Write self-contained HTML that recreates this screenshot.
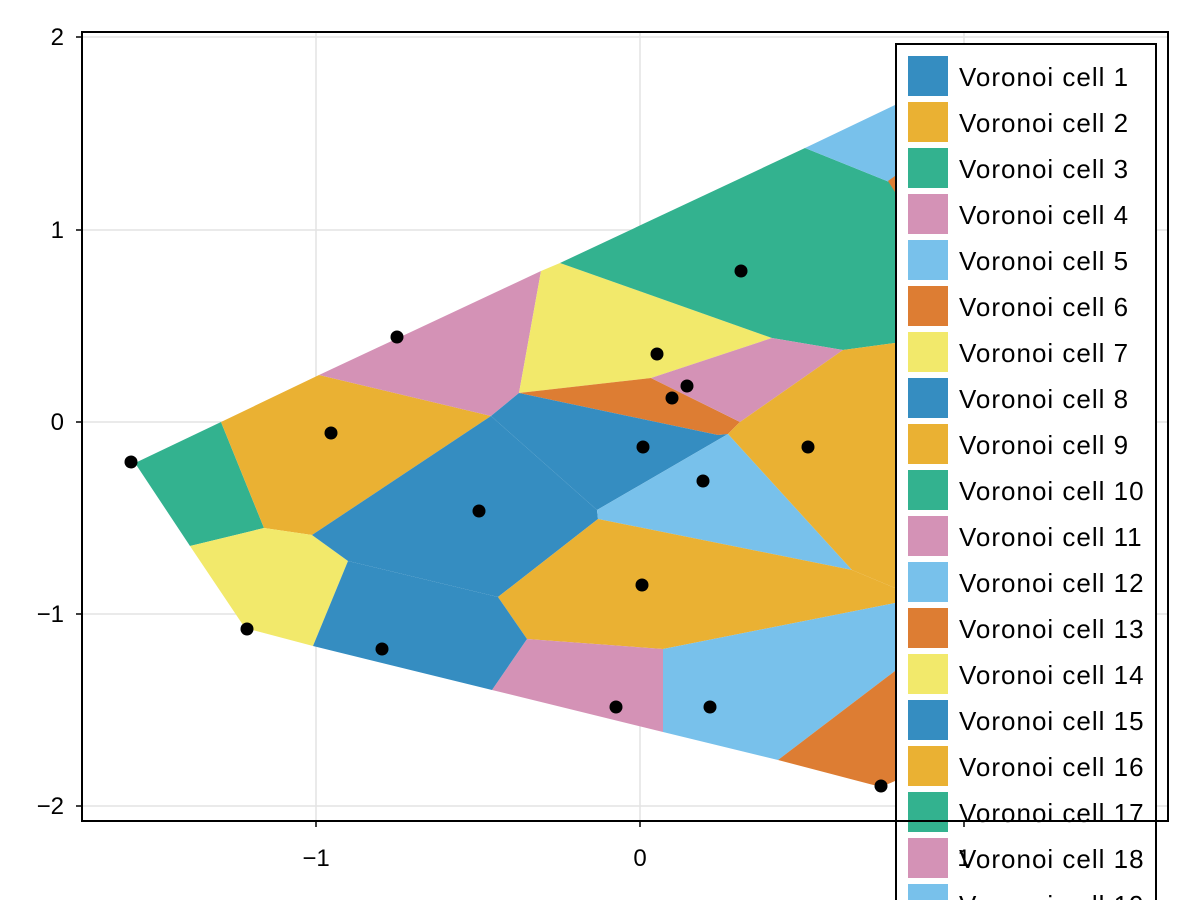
<!DOCTYPE html>
<html><head><meta charset="utf-8"><style>
html,body{margin:0;padding:0;background:#fff;}
svg{display:block;font-family:"Liberation Sans",Arial,sans-serif;}
</style></head><body>
<svg width="1200" height="900" viewBox="0 0 1200 900" xmlns="http://www.w3.org/2000/svg">
<rect width="1200" height="900" fill="#fff"/>
<g stroke="#e3e3e3" stroke-width="1.5">
<line x1="316" y1="32" x2="316" y2="821"/><line x1="640" y1="32" x2="640" y2="821"/><line x1="964" y1="32" x2="964" y2="821"/>
<line x1="82" y1="37" x2="1168" y2="37"/><line x1="82" y1="230" x2="1168" y2="230"/><line x1="82" y1="422" x2="1168" y2="422"/><line x1="82" y1="614" x2="1168" y2="614"/><line x1="82" y1="806" x2="1168" y2="806"/>
</g>
<g stroke="none">
<polygon fill="#33b28f" points="135,463 221,422 264,528 190,546"/>
<polygon fill="#eab133" points="221,422 319,375 491,416 312,535 264,528"/>
<polygon fill="#d492b6" points="319,375 541,271 519,393 491,416"/>
<polygon fill="#f2e96b" points="190,546 264,528 312,535 348,561 313,646 245,628"/>
<polygon fill="#358dc1" points="491,416 312,535 348,561 498,597 598,519 597,510"/>
<polygon fill="#f2e96b" points="541,271 560,263 772,338 651,378 519,393"/>
<polygon fill="#33b28f" points="560,263 805,148 892,183 895,190 895,343 843,350 772,338"/>
<polygon fill="#78c1eb" points="805,148 895,105 895,190 892,183"/>
<polygon fill="#dd7d33" points="888,181 895,176 895,192"/>
<polygon fill="#dd7d33" points="519,393 651,378 740,422 728,434 718,435"/>
<polygon fill="#d492b6" points="651,378 772,338 843,350 740,422"/>
<polygon fill="#358dc1" points="491,416 519,393 718,435 728,434 597,510"/>
<polygon fill="#78c1eb" points="597,510 728,434 852,570 598,519"/>
<polygon fill="#eab133" points="740,422 843,350 895,343 895,588 852,570 728,434"/>
<polygon fill="#eab133" points="598,519 852,570 895,588 895,603 663,649 527,639 498,597"/>
<polygon fill="#d492b6" points="527,639 663,649 663,732 492,690"/>
<polygon fill="#358dc1" points="348,561 498,597 527,639 492,690 313,646"/>
<polygon fill="#78c1eb" points="663,649 895,603 895,671 778,760 663,732"/>
<polygon fill="#dd7d33" points="778,760 895,671 895,781 881,787"/>
</g>
<g fill="#000">
<circle cx="131" cy="462" r="6.5"/><circle cx="397" cy="337" r="6.5"/><circle cx="331" cy="433" r="6.5"/><circle cx="479" cy="511" r="6.5"/><circle cx="247" cy="629" r="6.5"/><circle cx="382" cy="649" r="6.5"/><circle cx="616" cy="707" r="6.5"/><circle cx="710" cy="707" r="6.5"/><circle cx="643" cy="447" r="6.5"/><circle cx="703" cy="481" r="6.5"/><circle cx="642" cy="585" r="6.5"/><circle cx="657" cy="354" r="6.5"/><circle cx="687" cy="386" r="6.5"/><circle cx="672" cy="398" r="6.5"/><circle cx="808" cy="447" r="6.5"/><circle cx="741" cy="271" r="6.5"/><circle cx="881" cy="786" r="6.5"/>
</g>
<!-- legend -->
<rect x="896" y="44" width="260" height="870" fill="#fff" stroke="#000" stroke-width="2"/>
<g font-size="26" fill="#000" letter-spacing="1">
<rect x="908" y="56" width="40" height="40" fill="#358dc1"/><text x="959" y="86">Voronoi cell 1</text>
<rect x="908" y="102" width="40" height="40" fill="#eab133"/><text x="959" y="132">Voronoi cell 2</text>
<rect x="908" y="148" width="40" height="40" fill="#33b28f"/><text x="959" y="178">Voronoi cell 3</text>
<rect x="908" y="194" width="40" height="40" fill="#d492b6"/><text x="959" y="224">Voronoi cell 4</text>
<rect x="908" y="240" width="40" height="40" fill="#78c1eb"/><text x="959" y="270">Voronoi cell 5</text>
<rect x="908" y="286" width="40" height="40" fill="#dd7d33"/><text x="959" y="316">Voronoi cell 6</text>
<rect x="908" y="332" width="40" height="40" fill="#f2e96b"/><text x="959" y="362">Voronoi cell 7</text>
<rect x="908" y="378" width="40" height="40" fill="#358dc1"/><text x="959" y="408">Voronoi cell 8</text>
<rect x="908" y="424" width="40" height="40" fill="#eab133"/><text x="959" y="454">Voronoi cell 9</text>
<rect x="908" y="470" width="40" height="40" fill="#33b28f"/><text x="959" y="500">Voronoi cell 10</text>
<rect x="908" y="516" width="40" height="40" fill="#d492b6"/><text x="959" y="546">Voronoi cell 11</text>
<rect x="908" y="562" width="40" height="40" fill="#78c1eb"/><text x="959" y="592">Voronoi cell 12</text>
<rect x="908" y="608" width="40" height="40" fill="#dd7d33"/><text x="959" y="638">Voronoi cell 13</text>
<rect x="908" y="654" width="40" height="40" fill="#f2e96b"/><text x="959" y="684">Voronoi cell 14</text>
<rect x="908" y="700" width="40" height="40" fill="#358dc1"/><text x="959" y="730">Voronoi cell 15</text>
<rect x="908" y="746" width="40" height="40" fill="#eab133"/><text x="959" y="776">Voronoi cell 16</text>
<rect x="908" y="792" width="40" height="40" fill="#33b28f"/><text x="959" y="822">Voronoi cell 17</text>
<rect x="908" y="838" width="40" height="40" fill="#d492b6"/><text x="959" y="868">Voronoi cell 18</text>
<rect x="908" y="884" width="40" height="40" fill="#78c1eb"/><text x="959" y="914">Voronoi cell 19</text>
</g>
<rect x="82" y="32" width="1086" height="789" fill="none" stroke="#000" stroke-width="2"/>
<g stroke="#000" stroke-width="1.5">
<line x1="316" y1="821" x2="316" y2="827"/><line x1="640" y1="821" x2="640" y2="827"/><line x1="964" y1="821" x2="964" y2="827"/>
<line x1="76" y1="37" x2="82" y2="37"/><line x1="76" y1="230" x2="82" y2="230"/><line x1="76" y1="422" x2="82" y2="422"/><line x1="76" y1="614" x2="82" y2="614"/><line x1="76" y1="806" x2="82" y2="806"/>
</g>
<g font-size="24" fill="#000" text-anchor="end">
<text x="64" y="45">2</text><text x="64" y="238">1</text><text x="64" y="430">0</text><text x="64" y="622">−1</text><text x="64" y="814">−2</text>
</g>
<g font-size="24" fill="#000" text-anchor="middle">
<text x="316" y="866">−1</text><text x="640" y="866">0</text><text x="964" y="866">1</text>
</g>
</svg>
</body></html>
